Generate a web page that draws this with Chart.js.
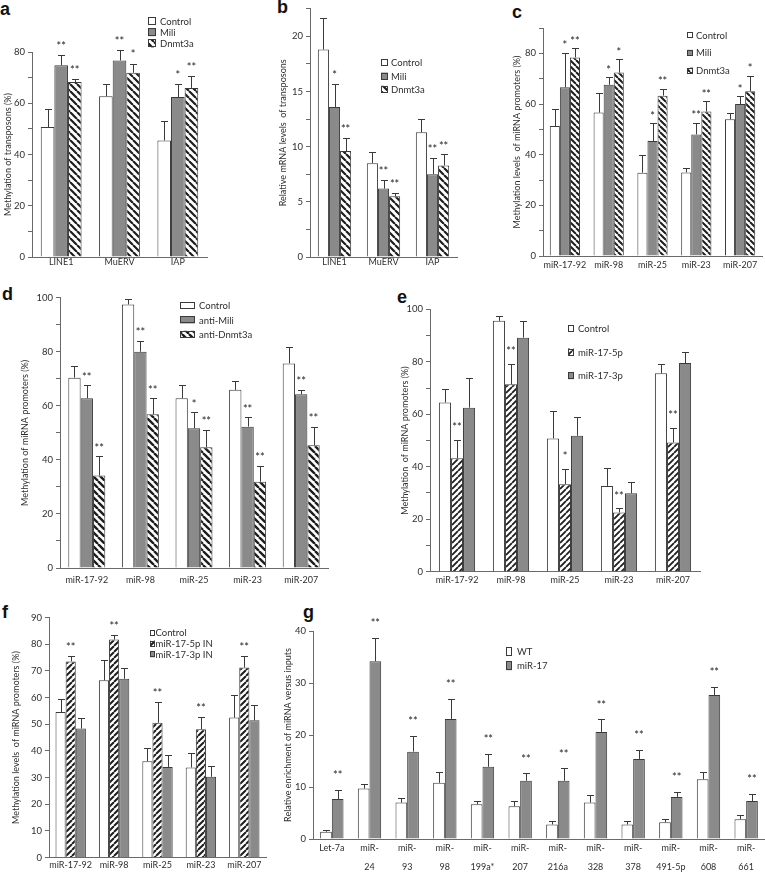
<!DOCTYPE html>
<html>
<head>
<meta charset="utf-8">
<script src="https://cdn.jsdelivr.net/npm/chart.js@4.4.0/dist/chart.umd.min.js"></script>
<style>
  body { margin: 0; background: #fff; width: 765px; height: 872px; position: relative; overflow: hidden; }
  canvas { position: absolute; }
  .tag { position: absolute; font: bold 18px "Liberation Sans", Arial, sans-serif; line-height: 1; color: #111; }
</style>
</head>
<body>
<div class="tag" style="left:0px;top:0px">a</div>
<div class="tag" style="left:277px;top:-2px">b</div>
<div class="tag" style="left:512px;top:3px">c</div>
<div class="tag" style="left:2px;top:285px">d</div>
<div class="tag" style="left:397px;top:288px">e</div>
<div class="tag" style="left:2px;top:603px">f</div>
<div class="tag" style="left:303px;top:603px">g</div>
<canvas id="ca"></canvas>
<canvas id="cb"></canvas>
<canvas id="cc"></canvas>
<canvas id="cd"></canvas>
<canvas id="ce"></canvas>
<canvas id="cf"></canvas>
<canvas id="cg"></canvas>
<script>
// categories
const transposons = ['LINE1', 'MuERV', 'IAP'];
const mirs = ['miR-17-92', 'miR-98', 'miR-25', 'miR-23', 'miR-207'];
const gLabels = [['Let-7a', ''], ['miR-', '24'], ['miR-', '93'], ['miR-', '98'], ['miR-', '199a*'], ['miR-', '207'],
                 ['miR-', '216a'], ['miR-', '328'], ['miR-', '378'], ['miR-', '491-5p'], ['miR-', '608'], ['miR-', '661']];

// a: methylation of transposons
const aControl = [50.7, 62.7, 45.5];
const aControlSd = [7.2, 4.7, 7.5];
const aMili = [74.8, 76.7, 62.4];
const aMiliSd = [3.9, 3.9, 5.0];
const aMiliSig = ['**', '**', '*'];
const aDnmt = [68.3, 71.9, 66.0];
const aDnmtSd = [1.0, 3.5, 4.5];
const aDnmtSig = ['**', '*', '**'];

// b: relative mRNA levels of transposons
const bControl = [18.8, 8.5, 11.3];
const bControlSd = [2.9, 1.0, 1.2];
const bMili = [13.6, 6.2, 7.5];
const bMiliSd = [2.1, 0.8, 1.5];
const bMiliSig = ['*', '**', '**'];
const bDnmt = [9.6, 5.5, 8.3];
const bDnmtSd = [1.2, 0.3, 1.0];
const bDnmtSig = ['**', '**', '**'];

// c: methylation levels of miRNA promoters
const cControl = [51.3, 56.6, 32.9, 33.0, 54.0];
const cControlSd = [6.7, 7.9, 7.0, 1.9, 2.3];
const cMili = [66.6, 67.6, 45.4, 48.0, 60.0];
const cMiliSd = [13.7, 2.9, 7.0, 4.6, 3.0];
const cMiliSig = ['*', '*', '*', '**', '*'];
const cDnmt = [78.4, 72.4, 63.3, 57.0, 65.0];
const cDnmtSd = [3.6, 5.2, 2.7, 4.0, 6.0];
const cDnmtSig = ['**', '*', '**', '**', '*'];

// d: anti-Mili / anti-Dnmt3a
const dControl = [70.4, 97.5, 62.8, 65.9, 75.7];
const dControlSd = [4.4, 2.0, 4.9, 3.4, 6.2];
const dMili = [62.8, 80.0, 51.7, 52.3, 64.3];
const dMiliSd = [4.9, 4.1, 5.9, 3.5, 1.6];
const dMiliSig = ['**', '**', '*', '**', '**'];
const dDnmt = [34.2, 56.9, 44.7, 31.9, 45.4];
const dDnmtSd = [7.1, 5.9, 6.4, 5.9, 6.9];
const dDnmtSig = ['**', '**', '**', '**', '**'];

// e: miR-17-5p / miR-17-3p
const eControl = [64.5, 95.6, 50.8, 32.7, 75.6];
const eControlSd = [5.1, 1.9, 10.6, 6.8, 3.4];
const e5p = [43.2, 71.4, 33.3, 22.6, 49.2];
const e5pSd = [7.0, 7.8, 5.8, 1.5, 5.7];
const e5pSig = ['**', '**', '*', '**', '**'];
const e3p = [62.5, 89.2, 51.8, 29.9, 79.5];
const e3pSd = [11.5, 6.5, 7.3, 4.2, 4.1];

// f: inhibitors
const fControl = [54.6, 66.5, 36.1, 33.8, 52.5];
const fControlSd = [4.7, 7.5, 5.0, 5.6, 8.4];
const f5p = [73.6, 81.8, 50.6, 48.1, 71.3];
const f5pSd = [2.2, 1.8, 7.8, 4.6, 4.3];
const f5pSig = ['**', '**', '**', '**', '**'];
const f3p = [48.4, 67.1, 34.0, 30.3, 51.5];
const f3pSd = [4.0, 4.0, 4.6, 4.0, 5.9];

// g: enrichment versus inputs
const gWT = [1.4, 9.7, 7.0, 10.8, 6.7, 6.3, 2.8, 7.0, 2.8, 3.2, 11.5, 3.8];
const gWTSd = [0.3, 0.8, 0.8, 2.1, 0.7, 1.1, 0.7, 1.5, 0.7, 0.6, 1.4, 0.8];
const gMir17 = [7.7, 34.2, 16.8, 23.1, 13.9, 11.2, 11.2, 20.6, 15.4, 8.1, 27.7, 7.3];
const gMir17Sd = [1.7, 4.5, 3.1, 3.8, 2.5, 1.4, 2.4, 2.4, 1.7, 1.0, 1.6, 1.4];
const gMir17Sig = ['**', '**', '**', '**', '**', '**', '**', '**', '**', '**', '**', '**'];

const FONT = 'Lato, "Open Sans", sans-serif';
const AXIS = '#6a6a6a';
const EDGE = '#3a3a3a';
const GRAY = '#8a8a8a';
const INK = '#2e2e2e';

function hatch(dir, s, lw) {
    const c = document.createElement('canvas');
    c.width = s; c.height = s;
    const x = c.getContext('2d');
    x.fillStyle = '#fff';
    x.fillRect(0, 0, s, s);
    x.strokeStyle = '#1e1e1e';
    x.lineWidth = lw;
    x.beginPath();
    for (let k = -1; k <= 1; k++) {
        if (dir === '\\') { x.moveTo(k * s, 0); x.lineTo(k * s + s, s); }
        else { x.moveTo(k * s, s); x.lineTo(k * s + s, 0); }
    }
    x.stroke();
    return x.createPattern(c, 'repeat');
}

function series(label, data, sd, sig, fill) {
    return { label, data, sd, sig, backgroundColor: fill };
}

// whiskers (upper only) and significance marks
const errorBars = {
    id: 'errorBars',
    afterDatasetsDraw(chart, args, o) {
        const ctx = chart.ctx;
        const y = chart.scales.y;
        chart.data.datasets.forEach((ds, i) => {
            chart.getDatasetMeta(i).data.forEach((bar, j) => {
                const top = y.getPixelForValue(ds.data[j] + ds.sd[j]);
                const bx = Math.round(bar.x) + 0.5;
                ctx.save();
                ctx.strokeStyle = EDGE;
                ctx.lineWidth = 1;
                ctx.beginPath();
                ctx.moveTo(bx, bar.y);
                ctx.lineTo(bx, Math.round(top) + 0.5);
                ctx.moveTo(bx - o.cap / 2, Math.round(top) + 0.5);
                ctx.lineTo(bx + o.cap / 2, Math.round(top) + 0.5);
                ctx.stroke();
                if (ds.sig && ds.sig[j]) {
                    ctx.fillStyle = '#222';
                    ctx.font = '11px ' + FONT;
                    ctx.textAlign = 'center';
                    ctx.textBaseline = 'alphabetic';
                    ctx.fillText(ds.sig[j], bar.x, top - o.gap + 6.3);
                }
                ctx.restore();
            });
        });
    }
};

// small legend placed inside the plot, like the original figures
const keyBox = {
    id: 'keyBox',
    afterDraw(chart, args, o) {
        const ctx = chart.ctx;
        chart.data.datasets.forEach((ds, i) => {
            const cy = o.y + i * o.dy;
            ctx.save();
            ctx.fillStyle = ds.backgroundColor;
            ctx.fillRect(o.x, cy - o.h / 2, o.w, o.h);
            ctx.strokeStyle = EDGE;
            ctx.lineWidth = 1;
            ctx.strokeRect(Math.round(o.x) + 0.5, Math.round(cy - o.h / 2) + 0.5, o.w - 1, o.h - 1);
            ctx.fillStyle = INK;
            ctx.font = o.size + 'px ' + FONT;
            ctx.textBaseline = 'middle';
            ctx.fillText(ds.label, o.x + o.w + o.gap, cy + 0.5);
            ctx.restore();
        });
    }
};

function panel(id, box, plot, cfg) {
    const cv = document.getElementById(id);
    cv.width = box.w;
    cv.height = box.h;
    cv.style.left = box.x + 'px';
    cv.style.top = box.y + 'px';
    const fs = 9;
    const key = cfg.key;
    return new Chart(cv, {
        type: 'bar',
        data: { labels: cfg.labels, datasets: cfg.datasets },
        options: {
            responsive: false,
            animation: false,
            layout: { padding: { left: 0, top: plot.t - box.y, right: box.x + box.w - plot.r, bottom: 0 } },
            datasets: { bar: { categoryPercentage: cfg.cat, barPercentage: 1, borderWidth: 1, borderColor: EDGE } },
            plugins: {
                legend: { display: false },
                tooltip: { enabled: false },
                errorBars: { cap: 7, gap: cfg.gap },
                keyBox: { x: key.x - box.x, y: key.y - box.y, dy: key.dy, w: key.w, h: key.h, gap: key.gap, size: 9.5 }
            },
            scales: {
                x: {
                    grid: { display: false, drawTicks: false },
                    border: { color: AXIS },
                    ticks: { autoSkip: false, maxRotation: 0, padding: cfg.xpad, color: INK,
                             font: { family: FONT, size: fs, lineHeight: cfg.xlh || 1.2 } },
                    afterFit(s) { s.height = box.y + box.h - plot.b; }
                },
                y: {
                    min: 0,
                    max: cfg.max,
                    border: { color: AXIS },
                    grid: { drawOnChartArea: false, tickLength: 4, color: AXIS },
                    ticks: { stepSize: cfg.step, padding: 3, color: INK, font: { family: FONT, size: 9.5 },
                             callback: v => (Math.abs(v % cfg.every) < 1e-6 ? v : '') },
                    title: { display: true, text: cfg.title, color: INK, font: { family: FONT, size: fs },
                             padding: { top: cfg.titleX - box.x - fs * 0.6, bottom: 0 } },
                    afterFit(s) { s.width = plot.l - box.x; }
                }
            }
        },
        plugins: [errorBars, keyBox]
    });
}

const hatchA = hatch('\\', 7, 2.2);
const hatchC = hatch('\\', 6, 2);
const hatchD = hatch('\\', 7, 2.4);
const hatchE = hatch('/', 6, 1.8);
const hatchF = hatch('/', 6, 2);

panel('ca', { x: 0, y: 0, w: 255, h: 285 }, { l: 32, t: 52, r: 207, b: 257 }, {
    labels: transposons, max: 80, step: 10, every: 20, cat: 0.7, gap: 12, xpad: 0, titleX: 8,
    title: 'Methylation of transposons (%)',
    key: { x: 148, y: 21, dy: 11.2, w: 8, h: 8, gap: 4 },
    datasets: [
        series('Control', aControl, aControlSd, null, '#fff'),
        series('Mili', aMili, aMiliSd, aMiliSig, GRAY),
        series('Dnmt3a', aDnmt, aDnmtSd, aDnmtSig, hatchA)
    ]
});

panel('cb', { x: 255, y: 0, w: 255, h: 285 }, { l: 310, t: 7.6, r: 457, b: 257 }, {
    labels: transposons, max: 22.5, step: 2.5, every: 5, cat: 0.68, gap: 11, xpad: 0, titleX: 283,
    title: 'Relative mRNA levels  of transposons',
    key: { x: 381, y: 62.7, dy: 13.3, w: 7, h: 7, gap: 3 },
    datasets: [
        series('Control', bControl, bControlSd, null, '#fff'),
        series('Mili', bMili, bMiliSd, bMiliSig, GRAY),
        series('Dnmt3a', bDnmt, bDnmtSd, bDnmtSig, hatchA)
    ]
});

panel('cc', { x: 510, y: 0, w: 255, h: 285 }, { l: 543, t: 28, r: 762, b: 256 }, {
    labels: mirs, max: 90, step: 10, every: 20, cat: 0.69, gap: 10, xpad: 4, titleX: 517,
    title: 'Methylation levels  of miRNA promoters (%)',
    key: { x: 687, y: 35, dy: 17.8, w: 6, h: 6, gap: 3 },
    datasets: [
        series('Control', cControl, cControlSd, null, '#fff'),
        series('Mili', cMili, cMiliSd, cMiliSig, GRAY),
        series('Dnmt3a', cDnmt, cDnmtSd, cDnmtSig, hatchC)
    ]
});

panel('cd', { x: 0, y: 285, w: 380, h: 307 }, { l: 60, t: 297.7, r: 328, b: 568 }, {
    labels: mirs, max: 100, step: 10, every: 20, cat: 0.69, gap: 10.7, xpad: 7, titleX: 25,
    title: 'Methylation of miRNA promoters (%)',
    key: { x: 180, y: 305.7, dy: 14.3, w: 15, h: 7, gap: 4 },
    datasets: [
        series('Control', dControl, dControlSd, null, '#fff'),
        series('anti-Mili', dMili, dMiliSd, dMiliSig, GRAY),
        series('anti-Dnmt3a', dDnmt, dDnmtSd, dDnmtSig, hatchD)
    ]
});

panel('ce', { x: 380, y: 285, w: 385, h: 307 }, { l: 430, t: 309.3, r: 700, b: 571.7 }, {
    labels: mirs, max: 100, step: 10, every: 20, cat: 0.67, gap: 15, xpad: 3, titleX: 405,
    title: 'Methylation  of miRNA promoters (%)',
    key: { x: 568, y: 328.3, dy: 23.7, w: 6, h: 7, gap: 4 },
    datasets: [
        series('Control', eControl, eControlSd, null, '#fff'),
        series('miR-17-5p', e5p, e5pSd, e5pSig, hatchE),
        series('miR-17-3p', e3p, e3pSd, null, GRAY)
    ]
});

panel('cf', { x: 0, y: 592, w: 280, h: 280 }, { l: 49, t: 617.7, r: 266, b: 857.5 }, {
    labels: mirs, max: 90, step: 10, every: 10, cat: 0.7, gap: 11, xpad: 2, titleX: 16,
    title: 'Methylation levels  of miRNA promoters (%)',
    key: { x: 150, y: 632.7, dy: 10.8, w: 5, h: 6, gap: 0.5 },
    datasets: [
        series('Control', fControl, fControlSd, null, '#fff'),
        series('miR-17-5p IN', f5p, f5pSd, f5pSig, hatchF),
        series('miR-17-3p IN', f3p, f3pSd, null, GRAY)
    ]
});

panel('cg', { x: 280, y: 592, w: 485, h: 280 }, { l: 313, t: 631, r: 765, b: 839 }, {
    labels: gLabels, max: 40, step: 10, every: 10, cat: 0.62, gap: 17, xpad: 0, xlh: '19px', titleX: 288,
    title: 'Relative enrichment of miRNA versus inputs',
    key: { x: 506, y: 651, dy: 14.7, w: 6, h: 9, gap: 5 },
    datasets: [
        series('WT', gWT, gWTSd, null, '#fff'),
        series('miR-17', gMir17, gMir17Sd, gMir17Sig, GRAY)
    ]
});
</script>
</body>
</html>
